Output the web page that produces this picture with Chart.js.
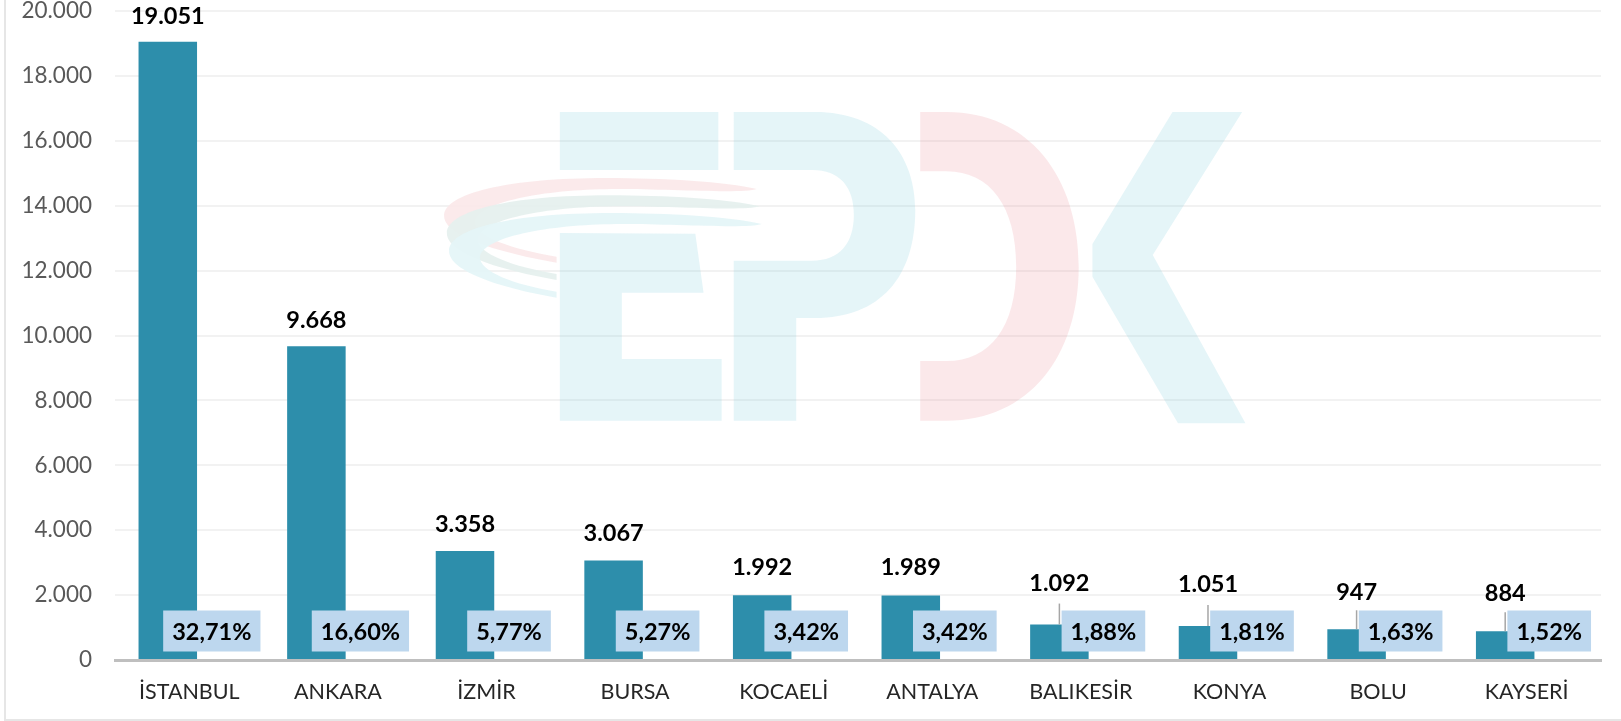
<!DOCTYPE html>
<html><head><meta charset="utf-8">
<style>html,body{margin:0;padding:0;background:#fff}canvas{display:block}</style>
<script src="https://cdn.jsdelivr.net/npm/chart.js@4/dist/chart.umd.min.js"></script>
</head><body><canvas id="c" width="1621" height="721"></canvas>
<script>
const categories = ["İSTANBUL","ANKARA","İZMİR","BURSA","KOCAELİ","ANTALYA","BALIKESİR","KONYA","BOLU","KAYSERİ"];
const values = [19051,9668,3358,3067,1992,1989,1092,1051,947,884];
const shares = [32.71,16.60,5.77,5.27,3.42,3.42,1.88,1.81,1.63,1.52];
const yTicks = {min:0,max:20000,step:2000};

const FONT = "Lato";
const fmtInt = v => String(v).replace(/\B(?=(\d{3})+$)/g,".");
const fmtPct = v => v.toFixed(2).replace(".",",")+"%";

// Watermark: decorative logo, not data
const logoPlugin = {
  id:"logo",
  beforeDatasetsDraw(chart){
    const g = chart.ctx;
    g.save();
    g.translate(420,90); g.scale(860/1568,1/3);
    const blue="rgba(125,205,222,0.2)", red="rgba(235,140,150,0.2)";
    const swoosh=(dx,dy,col)=>{
      g.fillStyle=col; g.beginPath();
      g.moveTo(614+dx,297+dy);
      g.bezierCurveTo(560+dx,275+dy,440+dx,264+dy,340+dx,264+dy);
      g.bezierCurveTo(160+dx,264+dy,44+dx,310+dy,44+dx,378+dy);
      g.bezierCurveTo(44+dx,440+dy,150,490+dy,249,518+dy);
      g.lineTo(249,500+dy);
      g.bezierCurveTo(170,478+dy,100+dx,440+dy,100+dx,395+dy);
      g.bezierCurveTo(110+dx,330+dy,240+dx,297+dy,360+dx,297+dy);
      g.bezierCurveTo(450+dx,297+dy,590+dx,312+dy,614+dx,297+dy);
      g.closePath(); g.fill();
    };
    swoosh(0,0,"rgba(251,232,234,0.93)");
    swoosh(5,52,"rgba(229,240,238,0.93)");
    swoosh(9,105,"rgba(228,245,248,0.93)");
    g.fillStyle=blue;
    g.fillRect(255,66,289,174);
    g.beginPath();
    [[255,429],[502,431],[517,608],[368,608],[368,807],[550,807],[550,992],[255,992]].forEach((p,i)=>i?g.lineTo(p[0],p[1]):g.moveTo(p[0],p[1]));
    g.closePath(); g.fill();
    g.beginPath();
    g.moveTo(572,66); g.lineTo(720,66);
    g.bezierCurveTo(840,66,903,190,903,360);
    g.bezierCurveTo(903,560,840,684,720,684);
    g.lineTo(686,684); g.lineTo(686,992); g.lineTo(572,992); g.lineTo(572,512); g.lineTo(715,512);
    g.bezierCurveTo(765,512,791,460,791,375);
    g.bezierCurveTo(791,290,765,240,715,240);
    g.lineTo(572,240); g.closePath(); g.fill();
    g.beginPath();
    [[1372,66],[1499,66],[1336,495],[1505,1000],[1382,1000],[1226,560],[1226,462]].forEach((p,i)=>i?g.lineTo(p[0],p[1]):g.moveTo(p[0],p[1]));
    g.closePath(); g.fill();
    g.fillStyle=red;
    g.beginPath();
    g.moveTo(912,66); g.lineTo(960,66);
    g.bezierCurveTo(1110,66,1201,260,1201,530);
    g.bezierCurveTo(1201,800,1110,992,960,992);
    g.lineTo(912,992); g.lineTo(912,813); g.lineTo(960,813);
    g.bezierCurveTo(1040,813,1087,710,1087,530);
    g.bezierCurveTo(1087,350,1040,244,960,244);
    g.lineTo(912,244); g.closePath(); g.fill();
    g.restore();
  }
};

const framePlugin = {
  id:"frame",
  beforeDraw(chart){
    const g=chart.ctx; g.save();
    g.fillStyle="#fff"; g.fillRect(0,0,1621,721);
    g.fillStyle="#E6E6E6"; g.fillRect(4,0,2,721); g.fillRect(4,719,1617,2);
    g.restore();
  }
};

const labelLift = [25,26,27,27,28,28,41,41,37,38];
const leaderFrom = [0,0,0,0,0,0,21,21,19,19];

const labelPlugin = {
  id:"labels",
  afterDatasetsDraw(chart){
    const g=chart.ctx, barsA=chart.getDatasetMeta(0).data, barsB=chart.getDatasetMeta(1).data;
    const base=chart.scales.y.getPixelForValue(0);
    g.save();
    g.textAlign="center"; g.textBaseline="middle";
    barsA.forEach((b,i)=>{
      if(leaderFrom[i]){
        g.strokeStyle="#A6A6A6"; g.lineWidth=1.5;
        g.beginPath(); g.moveTo(b.x,b.y-leaderFrom[i]); g.lineTo(b.x,b.y); g.stroke();
      }
      g.fillStyle="#000"; g.font="bold 23.5px "+FONT;
      g.fillText(fmtInt(values[i]),b.x,b.y-labelLift[i]);
    });
    barsB.forEach((b,i)=>{
      const t=fmtPct(shares[i]);
      g.font="bold 23.5px "+FONT;
      const w=g.measureText(t).width+18;
      const x=b.x+1;
      g.fillStyle="#BDD7EE"; g.fillRect(x-w/2,base-49.5,w,41);
      g.fillStyle="#000"; g.fillText(t,x,base-27.5);
    });
    g.restore();
  }
};

new Chart(document.getElementById("c"),{
  type:"bar",
  data:{labels:categories,datasets:[
    {data:values,backgroundColor:"#2D8EAB",yAxisID:"y",categoryPercentage:0.579,barPercentage:1.36},
    {data:shares,backgroundColor:"rgba(0,0,0,0)",yAxisID:"pct",categoryPercentage:0.579,barPercentage:1.36}
  ]},
  options:{
    responsive:false,animation:false,
    layout:{padding:{top:11,right:20,left:0,bottom:0}},
    plugins:{legend:{display:false},tooltip:{enabled:false}},
    scales:{
      x:{
        afterFit(s){s.height=61;s.paddingLeft=0;s.paddingRight=0;},
        grid:{display:false,drawTicks:false},
        border:{color:"#BFBFBF",width:3,z:1},
        ticks:{color:"#262626",font:{family:FONT,size:21.5},padding:19,maxRotation:0,autoSkip:false}
      },
      y:{
        min:yTicks.min,max:yTicks.max,
        afterFit(s){s.width=115;s.paddingTop=0;s.paddingBottom=0;},
        border:{display:false},
        grid:{color:"#F2F2F2",lineWidth:2,drawTicks:false},
        ticks:{stepSize:yTicks.step,color:"#595959",font:{family:FONT,size:22.5},padding:23,callback:v=>fmtInt(v)}
      },
      pct:{display:false,min:0,max:100}
    }
  },
  plugins:[framePlugin,logoPlugin,labelPlugin]
});
</script></body></html>
